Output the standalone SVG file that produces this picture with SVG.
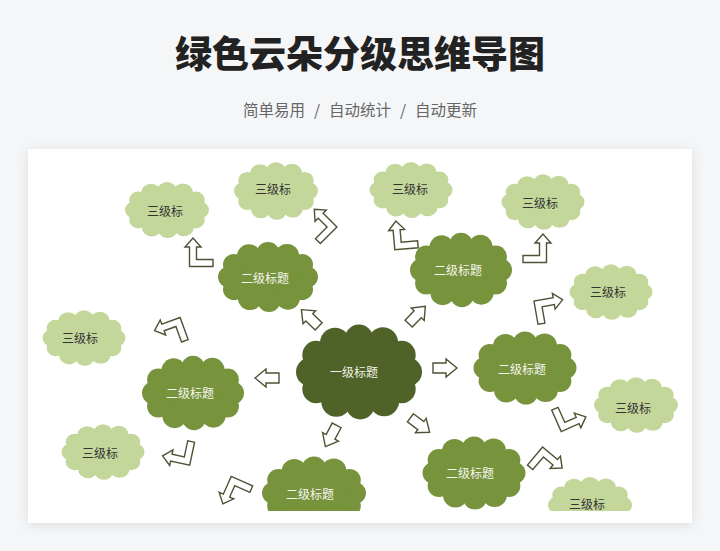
<svg xmlns="http://www.w3.org/2000/svg" xmlns:xlink="http://www.w3.org/1999/xlink" width="720" height="551" viewBox="0 0 720 551">
<style>
.title{font-family:"Noto Sans CJK SC","Noto Sans",sans-serif;font-weight:900;font-size:37px;fill:#222;text-anchor:middle}
.sub{font-family:"Noto Sans CJK SC","Noto Sans",sans-serif;font-size:15.5px;fill:#666}
.t{font-family:"Noto Sans CJK SC","Noto Sans",sans-serif;font-size:12px;text-anchor:middle;dominant-baseline:central}
.t1{fill:#eef2e6}
.t2{fill:#f4f6ef}
.t3{fill:#333}
.c1{fill:#4f6228}
.c2{fill:#77933c}
.c3{fill:#c4d79b}
.arr{fill:#fff;stroke:#4d5234;stroke-width:1.4;stroke-linejoin:miter}
</style>
<defs>
<filter id="sh" x="-10%" y="-10%" width="120%" height="120%">
<feDropShadow dx="0" dy="2" stdDeviation="6" flood-color="#000" flood-opacity="0.1"/>
</filter>
<clipPath id="clip"><rect x="28" y="149" width="664" height="362"/></clipPath>
<g id="cloud">
<ellipse cx="0" cy="0" rx="42" ry="27"/>
<circle cx="39" cy="0" r="11"/>
<circle cx="34" cy="13" r="11"/>
<circle cx="20" cy="22" r="12"/>
<circle cx="1" cy="25" r="11.5"/>
<circle cx="-18" cy="22.5" r="12"/>
<circle cx="-34" cy="13" r="11"/>
<circle cx="-39" cy="0" r="11"/>
<circle cx="-34" cy="-13" r="11"/>
<circle cx="-19" cy="-22" r="12"/>
<circle cx="0" cy="-25" r="11.5"/>
<circle cx="19" cy="-22.5" r="12"/>
<circle cx="34" cy="-13" r="11"/>
</g>
<path id="straight" d="M-12,-5 L1,-5 L1,-9 L12,0 L1,9 L1,5 L-12,5 Z"/>
<path id="bent" d="M0,-25 L8,-16 L3.5,-16 L3.5,-3.5 L20,-3.5 L20,3.5 L-3.5,3.5 L-3.5,-16 L-8,-16 Z"/>
</defs>
<rect x="0" y="0" width="720" height="551" fill="#f5f6f8"/>
<text class="title" x="360" y="68">绿色云朵分级思维导图</text>
<g class="sub">
<text x="243" y="116">简单易用</text>
<text x="317" y="116" text-anchor="middle">/</text>
<text x="329" y="116">自动统计</text>
<text x="403" y="116" text-anchor="middle">/</text>
<text x="415" y="116">自动更新</text>
</g>
<rect x="28" y="149" width="664" height="374" fill="#fff" filter="url(#sh)"/>
<g clip-path="url(#clip)">
<g id="connectors">
<use xlink:href="#straight" class="arr" transform="translate(310,318) rotate(-136)"/>
<use xlink:href="#straight" class="arr" transform="translate(417,315) rotate(-46)"/>
<use xlink:href="#straight" class="arr" transform="translate(445,368)"/>
<use xlink:href="#straight" class="arr" transform="translate(420,425) rotate(37)"/>
<use xlink:href="#straight" class="arr" transform="translate(331,436) rotate(118)"/>
<use xlink:href="#straight" class="arr" transform="translate(267,378) rotate(180)"/>
<use xlink:href="#bent" class="arr" transform="translate(193,263)"/>
<use xlink:href="#bent" class="arr" transform="translate(332,227) rotate(-45) scale(-1,1)"/>
<use xlink:href="#bent" class="arr" transform="translate(398,246) rotate(-5)"/>
<use xlink:href="#bent" class="arr" transform="translate(543,259) scale(-1,1)"/>
<use xlink:href="#bent" class="arr" transform="translate(178,322) rotate(-110) scale(-1,1)"/>
<use xlink:href="#bent" class="arr" transform="translate(187,461) rotate(-78)"/>
<use xlink:href="#bent" class="arr" transform="translate(538,304) rotate(80)"/>
<use xlink:href="#bent" class="arr" transform="translate(563,427) rotate(66) scale(-1,1)"/>
<use xlink:href="#bent" class="arr" transform="translate(543,452) rotate(130)"/>
<use xlink:href="#bent" class="arr" transform="translate(233,481) rotate(-156) scale(-1,1)"/>
</g>
<g id="main">
<use xlink:href="#cloud" class="c1" transform="translate(359,372) scale(1.26,1.3)"/>
<text class="t t1" x="354" y="371">一级标题</text>
</g>
<g id="l2-a">
<use xlink:href="#cloud" class="c2" transform="translate(268,277) scale(1.0,0.96)"/>
<text class="t t2" x="265" y="277">二级标题</text>
</g>
<g id="l2-b">
<use xlink:href="#cloud" class="c2" transform="translate(461,270) scale(1.02,1.02)"/>
<text class="t t2" x="458" y="269">二级标题</text>
</g>
<g id="l2-c">
<use xlink:href="#cloud" class="c2" transform="translate(193,393) scale(1.02,1.02)"/>
<text class="t t2" x="190" y="392">二级标题</text>
</g>
<g id="l2-d">
<use xlink:href="#cloud" class="c2" transform="translate(525,368) scale(1.03,1.0)"/>
<text class="t t2" x="522" y="368">二级标题</text>
</g>
<g id="l2-e">
<use xlink:href="#cloud" class="c2" transform="translate(474,473) scale(1.03,1.0)"/>
<text class="t t2" x="470" y="472">二级标题</text>
</g>
<g id="l2-f">
<use xlink:href="#cloud" class="c2" transform="translate(314,493) scale(1.04,1.0)"/>
<text class="t t2" x="310" y="493">二级标题</text>
</g>
<g id="l3-1">
<use xlink:href="#cloud" class="c3" transform="translate(167,210) scale(0.84,0.77)"/>
<text class="t t3" x="165" y="210">三级标</text>
</g>
<g id="l3-2">
<use xlink:href="#cloud" class="c3" transform="translate(276,191) scale(0.84,0.79)"/>
<text class="t t3" x="273" y="188">三级标</text>
</g>
<g id="l3-3">
<use xlink:href="#cloud" class="c3" transform="translate(411,190) scale(0.83,0.77)"/>
<text class="t t3" x="410" y="188">三级标</text>
</g>
<g id="l3-4">
<use xlink:href="#cloud" class="c3" transform="translate(543,202) scale(0.83,0.76)"/>
<text class="t t3" x="540" y="202">三级标</text>
</g>
<g id="l3-5">
<use xlink:href="#cloud" class="c3" transform="translate(611,292) scale(0.83,0.76)"/>
<text class="t t3" x="608" y="291">三级标</text>
</g>
<g id="l3-6">
<use xlink:href="#cloud" class="c3" transform="translate(636,405) scale(0.84,0.76)"/>
<text class="t t3" x="633" y="407">三级标</text>
</g>
<g id="l3-7">
<use xlink:href="#cloud" class="c3" transform="translate(590,505) scale(0.84,0.77)"/>
<text class="t t3" x="587" y="503">三级标</text>
</g>
<g id="l3-8">
<use xlink:href="#cloud" class="c3" transform="translate(84,338) scale(0.83,0.76)"/>
<text class="t t3" x="80" y="337">三级标</text>
</g>
<g id="l3-9">
<use xlink:href="#cloud" class="c3" transform="translate(103,452) scale(0.83,0.76)"/>
<text class="t t3" x="100" y="452">三级标</text>
</g>
</g>
</svg>
